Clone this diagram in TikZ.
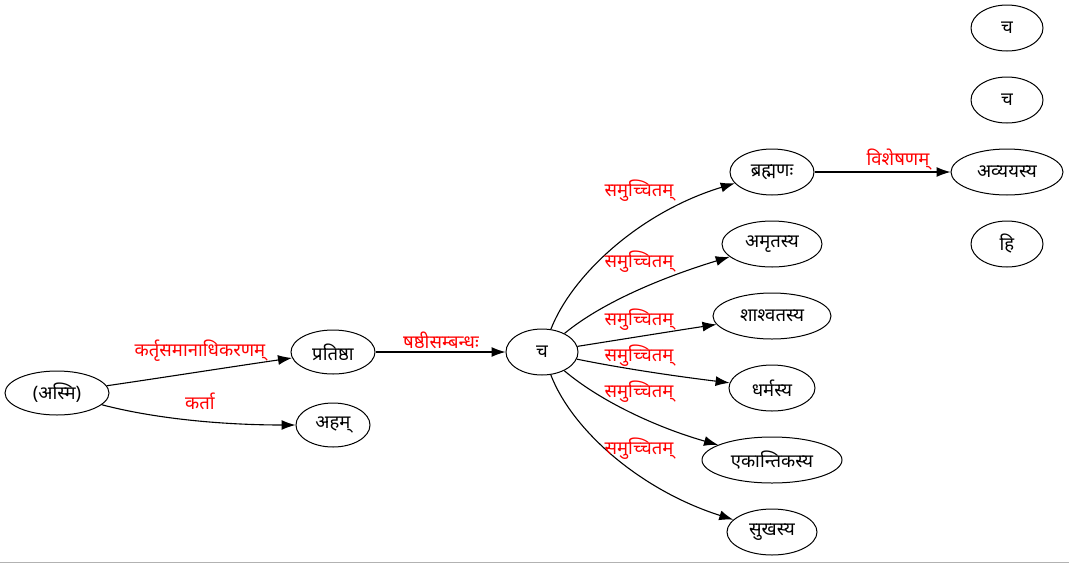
\documentclass[tikz,border=0pt]{standalone}
\usepackage{fontspec}
\newfontfamily\deva[Script=Devanagari]{Noto Sans}
\usetikzlibrary{arrows.meta,shapes.geometric}
\begin{document}
\begin{tikzpicture}[x=1pt,y=-1pt,
  word/.style={draw,ellipse,line width=1pt,inner sep=0pt,font=\deva\fontsize{18.5}{18.5}\selectfont},
  rel/.style={text=red,font=\deva\fontsize{18.5}{18.5}\selectfont},
  arc/.style={line width=1.1pt,-{Latex[length=14pt,width=10pt]}}]
\useasboundingbox (0,0) rectangle (1069,563);
\draw[gray!60,line width=1pt] (0,562.5) -- (1069,562.5);

% words
\node[word,minimum width=104,minimum height=44] (asmi) at (57,393) {(अस्मि)};
\node[word,minimum width=84,minimum height=44] (pratistha) at (333,352) {प्रतिष्ठा};
\node[word,minimum width=74,minimum height=44] (aham) at (333,425) {अहम्};
\node[word,minimum width=72,minimum height=46] (ca) at (542,352) {च};
\node[word,minimum width=84,minimum height=46] (brahmanah) at (772,172) {ब्रह्मणः};
\node[word,minimum width=100,minimum height=46] (amrtasya) at (772,244) {अमृतस्य};
\node[word,minimum width=118,minimum height=46] (sasvatasya) at (772,316) {शाश्वतस्य};
\node[word,minimum width=86,minimum height=46] (dharmasya) at (772,388) {धर्मस्य};
\node[word,minimum width=140,minimum height=46] (ekantikasya) at (772,460) {एकान्तिकस्य};
\node[word,minimum width=90,minimum height=46] (sukhasya) at (772,532) {सुखस्य};
\node[word,minimum width=112,minimum height=46] (avyayasya) at (1007,172) {अव्ययस्य};
\node[word,minimum width=72,minimum height=46] (hi) at (1007,244) {हि};
\node[word,minimum width=72,minimum height=46] (caA) at (1007,28) {च};
\node[word,minimum width=72,minimum height=46] (caB) at (1007,100) {च};

% relations
\draw[arc] (asmi) .. controls (160,378) and (230,367) .. (pratistha);
\draw[arc] (asmi) .. controls (160,420) and (230,425) .. (aham);
\draw[arc] (pratistha) -- (ca);
\draw[arc] (ca) .. controls (572,275) and (640,212) .. (brahmanah);
\draw[arc] (ca) .. controls (605,300) and (670,275) .. (amrtasya);
\draw[arc] (ca) .. controls (630,338) and (680,330) .. (sasvatasya);
\draw[arc] (ca) .. controls (630,370) and (690,378) .. (dharmasya);
\draw[arc] (ca) .. controls (605,405) and (665,430) .. (ekantikasya);
\draw[arc] (ca) .. controls (572,430) and (640,490) .. (sukhasya);
\draw[arc] (brahmanah) -- (avyayasya);

% relation labels
\node[rel] (l1) at (200,351) {कर्तृसमानाधिकरणम्};
\node[rel] (l2) at (200,401) {कर्ता};
\node[rel] (l3) at (441,340) {षष्ठीसम्बन्धः};
\node[rel] (l4) at (639,191) {समुच्चितम्};
\node[rel] (l5) at (639,262) {समुच्चितम्};
\node[rel] (l6) at (639,320) {समुच्चितम्};
\node[rel] (l7) at (639,356) {समुच्चितम्};
\node[rel] (l8) at (639,392) {समुच्चितम्};
\node[rel] (l9) at (639,449) {समुच्चितम्};
\node[rel] (l10) at (898,160) {विशेषणम्};
\end{tikzpicture}
\end{document}
